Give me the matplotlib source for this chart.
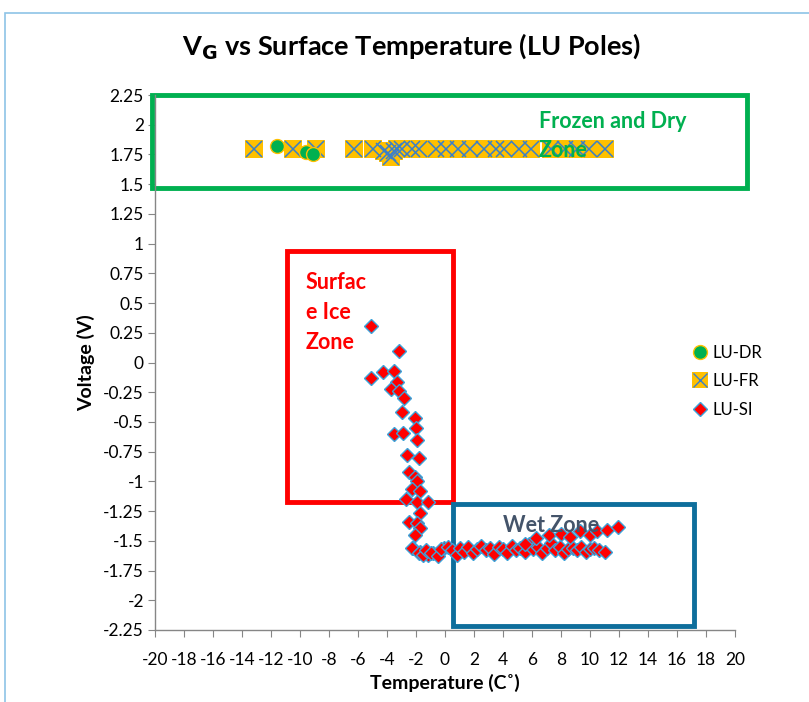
import matplotlib
matplotlib.use("Agg")
import matplotlib.pyplot as plt
from matplotlib.patches import Rectangle
from matplotlib.lines import Line2D
from matplotlib.legend_handler import HandlerTuple

plt.rcParams["font.family"] = ["Lato", "DejaVu Sans"]

# LU-DR: dry poles
dr_temp = [-11.6, -9.6, -9.1]
dr_volt = [1.82, 1.77, 1.75]

# LU-FR: frozen poles
fr_temp = [-13.2, -10.5, -8.9, -6.3, -5.0, -4.2, -3.9, -3.7, -3.5, -3.3, -3.0,
           -2.3, -1.8, -0.6, 0.1, 0.9, 1.7, 2.7, 3.5, 4.1, 5.1, 5.9, 7.3, 8.3,
           9.1, 9.9, 11.0]
fr_volt = [1.80, 1.80, 1.80, 1.80, 1.80, 1.78, 1.76, 1.73, 1.78, 1.80, 1.80,
           1.80, 1.80, 1.80, 1.80, 1.80, 1.80, 1.80, 1.80, 1.80, 1.80, 1.80,
           1.80, 1.80, 1.80, 1.80, 1.80]

# LU-SI: surface ice poles (descending branch, flat wet run, upper wet branch)
si_temp = [-5.1, -3.2, -5.1, -4.3, -3.5, -3.3, -3.7, -3.2, -2.8, -3.0, -2.1,
           -2.0, -3.5, -2.9, -1.9, -2.6, -1.8, -2.5, -2.1, -1.9, -2.3, -1.7,
           -2.7, -1.9, -1.2, -1.7, -2.5, -1.9, -1.7, -2.1, -2.2, -2.3, -1.7,
           -1.2, -0.8, -0.1,
           -1.8, -1.5, -1.3, -1.0, -0.5, -0.3, 0.2, 0.5, 0.8, 1.0, 1.3, 1.6,
           1.9, 2.2, 2.5, 2.8, 3.1, 3.4, 3.7, 4.0, 4.3, 4.6, 4.9, 5.2, 5.5,
           5.8, 6.1, 6.4, 6.7, 7.0, 7.3, 7.6, 7.9, 8.2, 8.5, 8.8, 9.1, 9.4,
           9.7, 10.0, 10.3, 10.6, 11.0,
           5.5, 6.3, 7.2, 8.0, 8.6, 9.3, 10.0, 10.5, 11.2, 11.9]
si_volt = [0.31, 0.10, -0.13, -0.08, -0.07, -0.16, -0.22, -0.24, -0.30, -0.42,
           -0.47, -0.55, -0.60, -0.59, -0.65, -0.78, -0.80, -0.92, -0.96, -1.00,
           -1.06, -1.08, -1.15, -1.17, -1.17, -1.27, -1.34, -1.35, -1.39, -1.45,
           -1.56, -1.56, -1.59, -1.62, -1.60, -1.56,
           -1.60, -1.62, -1.58, -1.60, -1.63, -1.57, -1.55, -1.58, -1.62, -1.56,
           -1.59, -1.55, -1.60, -1.57, -1.54, -1.58, -1.56, -1.61, -1.55, -1.57,
           -1.60, -1.54, -1.58, -1.56, -1.59, -1.53, -1.57, -1.55, -1.60, -1.56,
           -1.52, -1.58, -1.55, -1.60, -1.57, -1.56, -1.58, -1.55, -1.59, -1.57,
           -1.56, -1.58, -1.59,
           -1.53, -1.48, -1.45, -1.44, -1.47, -1.42, -1.45, -1.42, -1.41, -1.38]

x_ticks = list(range(-20, 21, 2))
y_ticks = [-2.25, -2, -1.75, -1.5, -1.25, -1, -0.75, -0.5, -0.25, 0,
           0.25, 0.5, 0.75, 1, 1.25, 1.5, 1.75, 2, 2.25]

GREEN = "#00B050"
YELLOW = "#FFC000"
XBLUE = "#3A7FC8"
RED = "#FF0000"
EDGE_BLUE = "#3BA3DA"
ZONE_BLUE = "#0E6E9C"

fig = plt.figure(figsize=(8.09, 7.02), dpi=100)
ax = fig.add_axes([155 / 809, 1 - 630 / 702, 580 / 809, 535 / 702])

# chart frame
fig.patches.append(Rectangle((5 / 809, -0.01), 1.0, 1 - 13 / 702 + 0.01,
                             transform=fig.transFigure, fill=False,
                             edgecolor="#8EC3E6", linewidth=1.2))

# data series
ax.plot(fr_temp, fr_volt, "s", color=YELLOW, markersize=12.5, markeredgewidth=0, zorder=3)
ax.plot(fr_temp, fr_volt, "x", color=XBLUE, markersize=11, markeredgewidth=1.1, zorder=4)
ax.plot(dr_temp, dr_volt, "o", color=GREEN, markeredgecolor=YELLOW, markersize=10,
        markeredgewidth=1, zorder=5)
ax.plot(si_temp, si_volt, "D", color=RED, markeredgecolor=EDGE_BLUE, markersize=7.5,
        markeredgewidth=1, zorder=5)

# zone boxes
ax.add_patch(Rectangle((-20.2, 1.47), 41.0, 0.78, fill=False, edgecolor=GREEN,
                       linewidth=3.5, clip_on=False, zorder=2))
ax.add_patch(Rectangle((-10.9, -1.17), 11.45, 2.11, fill=False, edgecolor=RED,
                       linewidth=3.5, clip_on=False, zorder=2))
ax.add_patch(Rectangle((0.55, -2.22), 16.65, 1.03, fill=False, edgecolor=ZONE_BLUE,
                       linewidth=3.5, clip_on=False, zorder=2))

ax.text(6.45, 2.03, "Frozen and Dry", color=GREEN, fontsize=15.5, fontweight="bold",
        ha="left", va="center", zorder=6)
ax.text(6.45, 1.785, "Zone", color=GREEN, fontsize=15.5, fontweight="bold",
        ha="left", va="center", zorder=6)
for i, line in enumerate(["Surfac", "e Ice", "Zone"]):
    ax.text(-9.6, 0.672 - i * 0.25, line, color=RED, fontsize=15.5, fontweight="bold",
            ha="left", va="center", zorder=6)
ax.text(4.0, -1.37, "Wet Zone", color="#44546A", fontsize=15.5, fontweight="bold",
        ha="left", va="center", zorder=6)

ax.set_xlim(-20, 20)
ax.set_ylim(-2.25, 2.25)
ax.set_xticks(x_ticks)
ax.set_yticks(y_ticks)
ax.set_xticklabels([f"{t}" for t in x_ticks])
ax.set_yticklabels([f"{t:g}" for t in y_ticks])
ax.tick_params(axis="both", direction="out", length=5, color="#868686",
               labelsize=12.5, pad=3)
ax.tick_params(axis="x", pad=11)
for side in ["top", "right"]:
    ax.spines[side].set_visible(False)
for side in ["left", "bottom"]:
    ax.spines[side].set_color("#868686")
    ax.spines[side].set_linewidth(1)

ax.set_xlabel("Temperature (C\u02da)", fontsize=14, fontweight="bold", labelpad=4)
ax.set_ylabel("Voltage (V)", fontsize=14, fontweight="bold", labelpad=6)

fig.text(411 / 809, 1 - 46 / 702, r"V$_\mathbf{G}$ vs Surface Temperature (LU Poles)",
         ha="center", va="center", fontsize=19.5, fontweight="bold")

# legend
h_dr = Line2D([], [], marker="o", linestyle="none", color=GREEN,
              markeredgecolor=YELLOW, markersize=10)
h_fr_sq = Line2D([], [], marker="s", linestyle="none", color=YELLOW,
                 markeredgewidth=0, markersize=11)
h_fr_x = Line2D([], [], marker="x", linestyle="none", color=XBLUE, markersize=10)
h_si = Line2D([], [], marker="D", linestyle="none", color=RED,
              markeredgecolor=EDGE_BLUE, markersize=7)
ax.legend([h_dr, (h_fr_sq, h_fr_x), h_si], ["LU-DR", "LU-FR", "LU-SI"],
          handler_map={tuple: HandlerTuple(ndivide=1)},
          loc="center left", bbox_to_anchor=(0.903, 0.465), frameon=False,
          fontsize=12, handlelength=0.8, handletextpad=0.3, labelspacing=0.75)

fig.savefig("out.png", dpi=100)
